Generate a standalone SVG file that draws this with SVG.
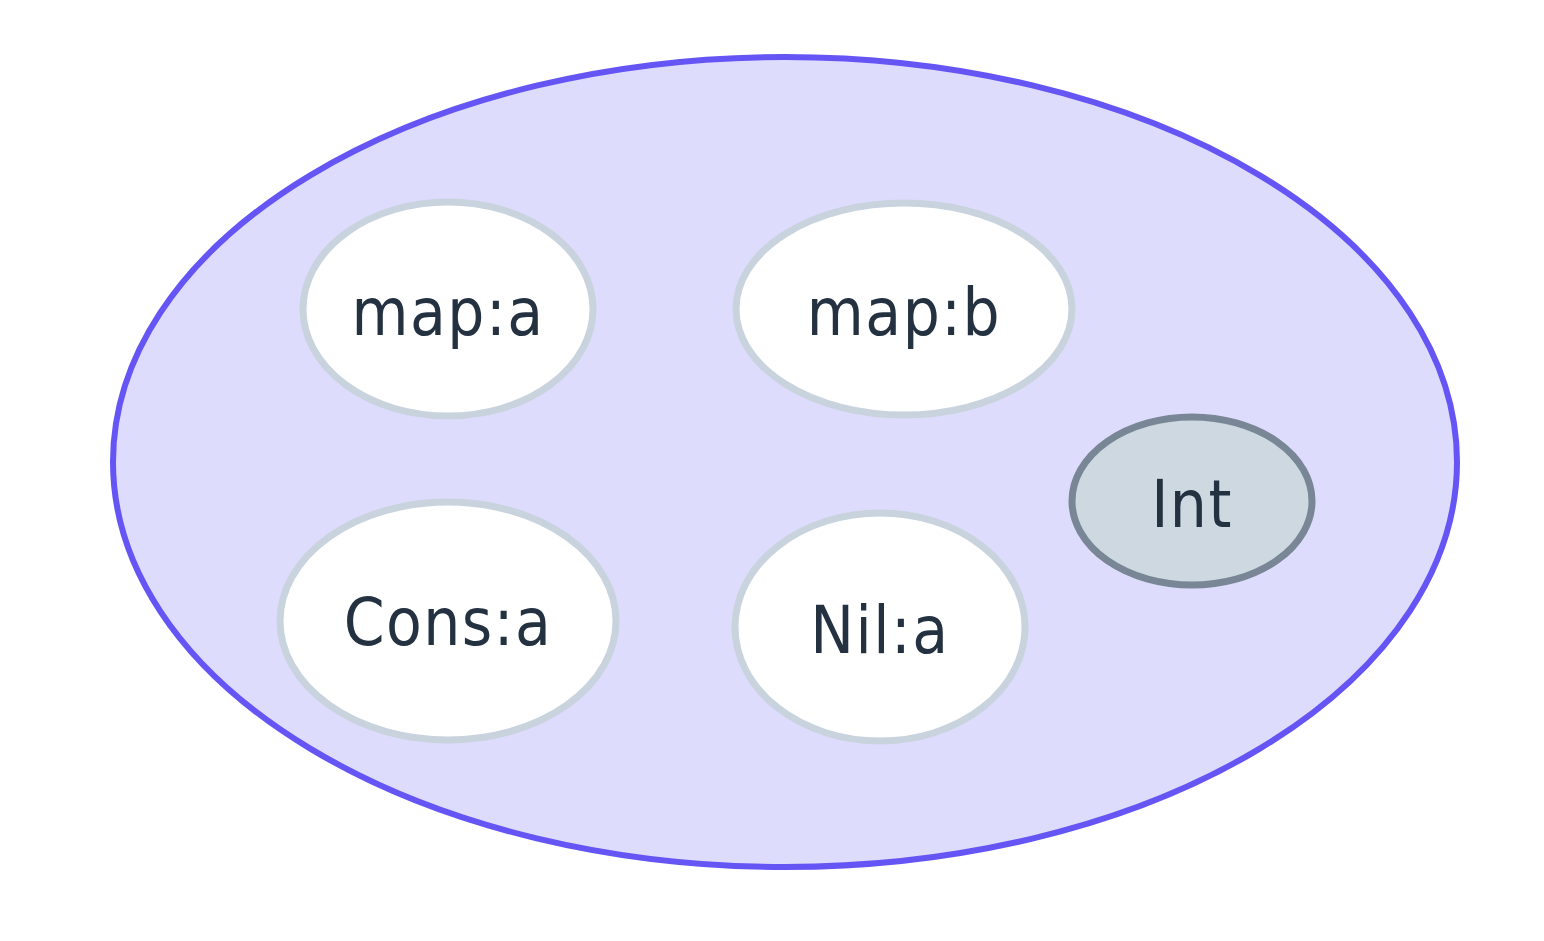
<svg xmlns="http://www.w3.org/2000/svg" width="1544" height="941" viewBox="0 0 1544 941">
<style>
.n{fill:#ffffff;stroke:#c9d3de;stroke-width:7}
.t{font-family:"DejaVu Sans Condensed","DejaVu Sans",sans-serif;font-size:65px;fill:#243141;text-anchor:middle;letter-spacing:1.5px}
</style>
<rect width="1544" height="941" fill="#ffffff"/>
<g id="cluster"><ellipse cx="785" cy="462" rx="672" ry="405" fill="#dedcfc" stroke="#6655f5" stroke-width="6"/></g>
<g id="connectors"></g>
<g id="map_a"><ellipse class="n" cx="448" cy="309" rx="145" ry="107"/><text class="t" x="448" y="335">map:a</text></g>
<g id="map_b"><ellipse class="n" cx="904" cy="309" rx="168" ry="106"/><text class="t" x="904" y="335">map:b</text></g>
<g id="Int"><ellipse cx="1192" cy="501" rx="120" ry="84" fill="#cdd8e1" stroke="#788695" stroke-width="7"/><text class="t" x="1192" y="527">Int</text></g>
<g id="Cons_a"><ellipse class="n" cx="448" cy="621" rx="168" ry="119"/><text class="t" x="448" y="645">Cons:a</text></g>
<g id="Nil_a"><ellipse class="n" cx="880" cy="627" rx="145" ry="114"/><text class="t" x="880" y="653">Nil:a</text></g>
</svg>
